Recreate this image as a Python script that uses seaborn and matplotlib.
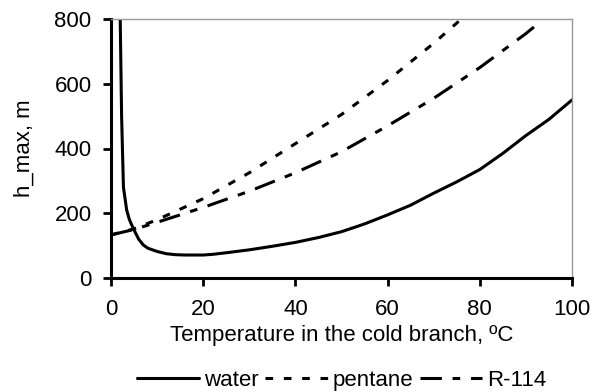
import numpy as np
import pandas as pd
import seaborn as sns
import matplotlib
matplotlib.use("Agg")
import matplotlib.pyplot as plt

water_x = [2.0, 2.3, 2.7, 3.4, 4, 4.8, 6, 7, 8, 10, 12, 14, 16, 18, 20, 22, 25, 30, 35, 40,
           45, 50, 55, 60, 65, 70, 75, 80, 85, 90, 95, 100]
water_y = [800, 500, 280, 210, 180, 154, 120, 102, 92, 82, 75, 72, 71, 71, 71, 73, 78, 87, 98, 110,
           125, 143, 167, 195, 225, 262, 297, 335, 385, 440, 490, 550]
pentane_x = [0, 5, 10, 20, 30, 40, 50, 60, 70, 76]
pentane_y = [133, 152, 180, 245, 325, 415, 505, 610, 725, 800]
r114_x = [0, 5, 10, 20, 30, 40, 50, 60, 70, 80, 90, 93]
r114_y = [133, 150, 172, 218, 268, 325, 390, 470, 555, 650, 755, 790]

df = pd.concat([
    pd.DataFrame({"x": water_x, "y": water_y, "fluid": "water"}),
    pd.DataFrame({"x": pentane_x, "y": pentane_y, "fluid": "pentane"}),
    pd.DataFrame({"x": r114_x, "y": r114_y, "fluid": "R-114"}),
])

sns.set_style("white")
plt.rcParams['font.family'] = ['Liberation Sans', 'DejaVu Sans']
plt.rcParams['text.color'] = 'black'
plt.rcParams['axes.labelcolor'] = 'black'
plt.rcParams['xtick.color'] = 'black'
plt.rcParams['ytick.color'] = 'black'

fig = plt.figure(figsize=(5.91, 3.92), dpi=100)
ax = fig.add_axes([111/591, 1-278/392, (572-111)/591, (278-19)/392])

dashes = {"water": "", "pentane": (2.5, 3.5), "R-114": (7, 3.5, 2.5, 3.5)}
sns.lineplot(data=df, x="x", y="y", style="fluid", dashes=dashes, color="black",
             linewidth=2.2, ax=ax, sort=False, estimator=None, legend=True)

ax.set_xlim(0, 100)
ax.set_ylim(0, 800)
ax.set_xticks([0, 20, 40, 60, 80, 100])
ax.set_yticks([0, 200, 400, 600, 800])
ax.tick_params(axis='both', direction='out', length=6, width=2, labelsize=16,
               left=True, bottom=True, colors='black', labelcolor='black')
ax.tick_params(axis='x', pad=9)
ax.tick_params(axis='y', pad=8)
for s in ['left', 'bottom']:
    ax.spines[s].set_color('black')
    ax.spines[s].set_linewidth(2.2)
for s in ['top', 'right']:
    ax.spines[s].set_color('#999999')
    ax.spines[s].set_linewidth(1)

ax.set_xlabel("Temperature in the cold branch, ºC", fontsize=16, labelpad=4, color='black')
ax.set_ylabel("h_max, m", fontsize=16, labelpad=14, color='black')

handles, labels = ax.get_legend_handles_labels()
leg = ax.legend(handles, labels, loc='center', bbox_to_anchor=(0.5, -0.394), ncol=3,
                frameon=False, fontsize=16, handlelength=2.8, handletextpad=0.22,
                columnspacing=0.3, borderaxespad=0, borderpad=0)
for t in leg.get_texts():
    t.set_color('black')

fig.savefig("out.png", dpi=100)
